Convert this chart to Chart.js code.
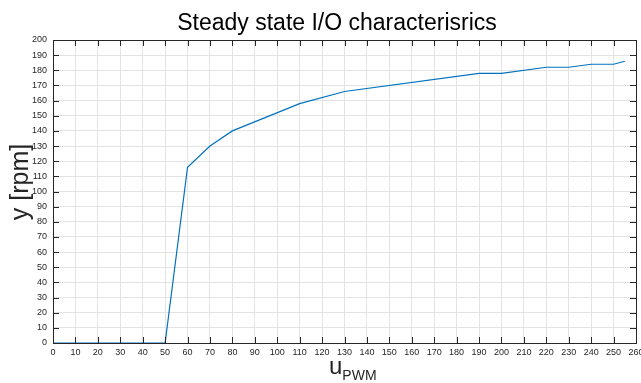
<!DOCTYPE html>
<html>
<head>
<meta charset="utf-8">
<script src="https://cdn.jsdelivr.net/npm/chart.js@4"></script>
<style>
  html, body { margin: 0; padding: 0; background: #fff; }
  #wrap { width: 641px; height: 383px; position: relative; }
</style>
</head>
<body>
<div id="wrap"><canvas id="ioChart" width="641" height="383"></canvas></div>
<script>
// measured steady state points (u_PWM -> y in rpm)
const uPwm = [0, 10, 20, 30, 40, 50, 60, 70, 80, 110, 130, 190, 200, 220, 230, 240, 250, 255];
const yRpm = [0, 0, 0, 0, 0, 0, 116, 130, 140, 158, 166, 178, 178, 182, 182, 184, 184, 186];

const titleText = 'Steady state I/O characterisrics';
const yLabel = 'y [rpm]';
const xLabelMain = 'u';
const xLabelSub = 'PWM';

const axisColor = '#262626';
const FONT = '"Liberation Sans", Arial, sans-serif';

// draws the box, inward tick marks and the axis titles (matlab look)
const matlabAxes = {
    id: 'matlabAxes',
    afterDraw(chart) {
        const ctx = chart.ctx;
        const a = chart.chartArea;
        const xs = chart.scales.x;
        const ys = chart.scales.y;
        ctx.save();
        ctx.strokeStyle = axisColor;
        ctx.lineWidth = 1;

        // tick marks pointing inwards, on all four sides
        ctx.beginPath();
        xs.ticks.forEach(t => {
            const px = Math.round(xs.getPixelForValue(t.value)) + 0.5;
            ctx.moveTo(px, a.bottom); ctx.lineTo(px, a.bottom - 6);
            ctx.moveTo(px, a.top); ctx.lineTo(px, a.top + 6);
        });
        ys.ticks.forEach(t => {
            const py = Math.round(ys.getPixelForValue(t.value)) + 0.5;
            ctx.moveTo(a.left, py); ctx.lineTo(a.left + 6, py);
            ctx.moveTo(a.right, py); ctx.lineTo(a.right - 6, py);
        });
        ctx.stroke();

        // box
        ctx.strokeRect(Math.round(a.left) + 0.5, Math.round(a.top) + 0.5,
            Math.round(a.right - a.left), Math.round(a.bottom - a.top));

        // title
        ctx.fillStyle = '#000';
        ctx.textAlign = 'center';
        ctx.textBaseline = 'alphabetic';
        ctx.font = '23px ' + FONT;
        ctx.fillText(titleText, 337, 30);

        // x label with subscript
        ctx.fillStyle = axisColor;
        ctx.textAlign = 'left';
        ctx.font = '24px ' + FONT;
        const wMain = ctx.measureText(xLabelMain).width;
        ctx.fillText(xLabelMain, 329, 374);
        ctx.font = '14px ' + FONT;
        ctx.fillText(xLabelSub, 329 + wMain, 380);

        // y label
        ctx.translate(28, 182);
        ctx.rotate(-Math.PI / 2);
        ctx.textAlign = 'center';
        ctx.font = '25px ' + FONT;
        ctx.fillText(yLabel, 0, 0);
        ctx.restore();
    }
};

const ctx = document.getElementById('ioChart').getContext('2d');

new Chart(ctx, {
    type: 'line',
    data: {
        datasets: [{
            data: uPwm.map((u, i) => ({ x: u, y: yRpm[i] })),
            borderColor: 'rgb(0, 114, 189)',
            borderWidth: 1.2,
            pointRadius: 0,
            tension: 0,
            fill: false
        }]
    },
    options: {
        responsive: false,
        animation: false,
        layout: { padding: { left: 0, right: 5, top: 40, bottom: 0 } },
        plugins: {
            legend: { display: false },
            title: { display: false },
            tooltip: { enabled: false }
        },
        scales: {
            x: {
                type: 'linear',
                min: 0,
                max: 260,
                border: { display: false },
                grid: { color: '#e3e3e3', drawTicks: false },
                ticks: {
                    stepSize: 10,
                    padding: 4,
                    maxRotation: 0,
                    autoSkip: false,
                    color: axisColor,
                    font: { family: FONT, size: 9 }
                },
                afterFit(scale) {
                    scale.height = 40;
                    scale.paddingLeft = 0;
                    scale.paddingRight = 0;
                }
            },
            y: {
                min: 0,
                max: 200,
                border: { display: false },
                grid: { color: '#e3e3e3', drawTicks: false },
                ticks: {
                    stepSize: 10,
                    padding: 6,
                    autoSkip: false,
                    color: axisColor,
                    font: { family: FONT, size: 9 }
                },
                afterFit(scale) {
                    scale.width = 53;
                    scale.paddingTop = 0;
                    scale.paddingBottom = 0;
                }
            }
        }
    },
    plugins: [matlabAxes]
});
</script>
</body>
</html>
